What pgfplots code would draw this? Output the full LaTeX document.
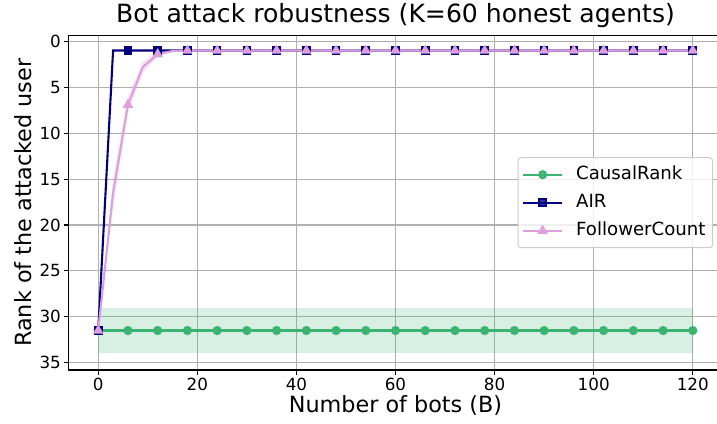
\documentclass[border=0pt]{standalone}
\usepackage{pgfplots}
\pgfplotsset{compat=1.18}
\usepackage{fontspec}
\setmainfont{DejaVu Sans}
\definecolor{cgreen}{HTML}{3CB371}
\definecolor{cnavy}{HTML}{000080}
\definecolor{cplum}{HTML}{DDA0DD}
\definecolor{cgrid}{HTML}{B0B0B0}
\begin{document}
\begin{tikzpicture}
\begin{axis}[name=ax, scale only axis, width=654bp, height=334.6bp,
  xmin=-6, xmax=126, ymin=-0.65, ymax=35.8, y dir=reverse,
  xtick={0,20,...,120}, ytick={0,5,...,35},
  grid=major, major grid style={cgrid, line width=1.1bp},
  axis line style={line width=1.1bp},
  tick style={black, line width=1.1bp}, tick align=outside, major tick length=4.9bp,
  xtick pos=bottom, ytick pos=left,
  ticklabel style={font=\fontsize{16.8}{18}\selectfont},
  /pgf/number format/assume math mode=true,
  yticklabel style={inner xsep=0pt, xshift=-2.6bp},
  xticklabel style={inner ysep=0pt, yshift=-3bp},
  title={Bot attack robustness (K=60 honest agents)},
  title style={font=\fontsize{25.2}{28}\selectfont, at={(axis description cs:0.5,1.02)}, anchor=base},
  xlabel={Number of bots (B)},
  xlabel style={font=\fontsize{22.4}{24}\selectfont, at={(axis description cs:0.5,-0.1264)}, anchor=base},
  ylabel={Rank of the attacked user},
  ylabel style={font=\fontsize{22.4}{24}\selectfont, at={(axis description cs:-0.0566,0.5)}, anchor=base},
  legend style={font=\fontsize{18.2}{20}\selectfont, at={(axis description cs:0.9855,0.5)}, anchor=east,
    draw=black!20, line width=1bp, rounded corners=3bp, fill=white, fill opacity=0.8, text opacity=1,
    inner xsep=4bp, inner ysep=3bp, row sep=0bp, column sep=10bp,
    nodes={text height=13.5bp, text depth=4bp, inner ysep=5.25bp, inner xsep=3bp}},
  legend cell align=left,
  legend image code/.code={\draw[mark repeat=2,mark phase=2] plot coordinates {(0bp,0bp)(19.5bp,0bp)(39bp,0bp)};},
]
% CausalRank band
\addplot[fill=cgreen, fill opacity=0.2, draw=none, forget plot] coordinates {(0,29.0) (120,29.0) (120,33.9) (0,33.9)} -- cycle;
% FollowerCount band
\addplot[fill=cplum, fill opacity=0.3, draw=none, forget plot] coordinates {
(0,31.5) (3,15.0) (6,6.0) (9,2.2) (12,1.1) (15,1.0) (18,1.0)
(18,1.0) (15,1.15) (12,1.7) (9,3.4) (6,7.8) (3,18.0) (0,31.5)} -- cycle;
\addplot[cgreen, line width=2.1bp, mark=*, mark size=3.5bp, mark repeat=2] table {
x y
0 31.5
3 31.5
6 31.5
9 31.5
12 31.5
15 31.5
18 31.5
21 31.5
24 31.5
27 31.5
30 31.5
33 31.5
36 31.5
39 31.5
42 31.5
45 31.5
48 31.5
51 31.5
54 31.5
57 31.5
60 31.5
63 31.5
66 31.5
69 31.5
72 31.5
75 31.5
78 31.5
81 31.5
84 31.5
87 31.5
90 31.5
93 31.5
96 31.5
99 31.5
102 31.5
105 31.5
108 31.5
111 31.5
114 31.5
117 31.5
120 31.5
};
\addlegendentry{CausalRank}
\addplot[cnavy, line width=2.1bp, mark=square*, mark size=3.3bp, mark repeat=2] table {
x y
0 31.5
3 1
6 1
9 1
12 1
15 1
18 1
21 1
24 1
27 1
30 1
33 1
36 1
39 1
42 1
45 1
48 1
51 1
54 1
57 1
60 1
63 1
66 1
69 1
72 1
75 1
78 1
81 1
84 1
87 1
90 1
93 1
96 1
99 1
102 1
105 1
108 1
111 1
114 1
117 1
120 1
};
\addlegendentry{AIR}
\addplot[cplum, line width=2.1bp, mark=triangle*, mark size=4bp, mark repeat=2] table {
x y
0 31.5
3 16.5
6 6.9
9 2.8
12 1.4
15 1.05
18 1
21 1
24 1
27 1
30 1
33 1
36 1
39 1
42 1
45 1
48 1
51 1
54 1
57 1
60 1
63 1
66 1
69 1
72 1
75 1
78 1
81 1
84 1
87 1
90 1
93 1
96 1
99 1
102 1
105 1
108 1
111 1
114 1
117 1
120 1
};
\addlegendentry{FollowerCount}
\end{axis}
\pgfresetboundingbox
\path (ax.south west) ++(-68.5bp,-54bp) coordinate (bl);
\useasboundingbox (bl) rectangle ++(717bp,424bp);
\end{tikzpicture}
\end{document}
